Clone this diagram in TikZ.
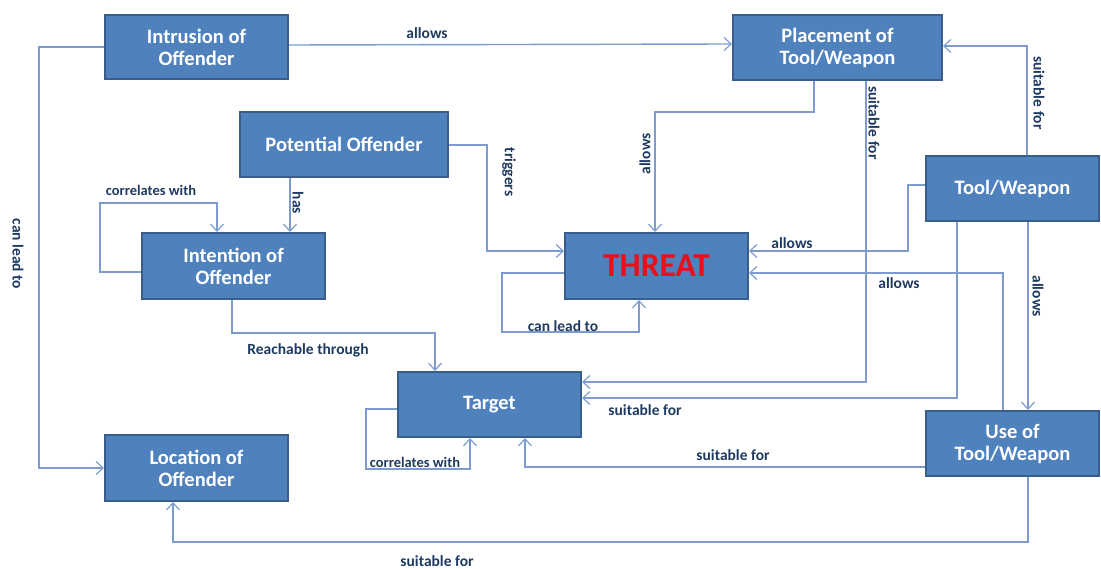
\documentclass[tikz,border=0pt]{standalone}
\usepackage{fontspec}
\setmainfont{Carlito}
\usetikzlibrary{arrows.meta}
\definecolor{boxfill}{HTML}{4F81BD}
\definecolor{boxline}{HTML}{385D8A}
\definecolor{wire}{HTML}{7D9BCF}
\definecolor{lbl}{HTML}{1F3A60}
\definecolor{alarm}{HTML}{E8101A}
\tikzset{
  box/.style={rectangle, draw=boxline, line width=2pt, fill=boxfill,
    text=white, font=\fontsize{20.5}{22}\selectfont\bfseries,
    align=center, inner sep=0pt},
  conn/.style={draw=wire, line width=1.4pt,
    -{Straight Barb[length=7pt,width=13pt,line width=1.2pt]}},
  rel/.style={text=lbl, font=\fontsize{15.5}{17}\selectfont\bfseries, inner sep=0pt},
  smallrel/.style={rel, font=\fontsize{14.5}{16}\selectfont\bfseries},
}
\begin{document}
\begin{tikzpicture}[x=1pt,y=-1pt]
\useasboundingbox (0,0) rectangle (1101,569);

% concepts
\node[box, minimum width=183pt, minimum height=64pt] (intr)   at (196.5,47)   {Intrusion of\\Offender};
\node[box, minimum width=208pt, minimum height=65pt] (pot)    at (344,144.5)  {Potential Offender};
\node[box, minimum width=183pt, minimum height=66pt] (intn)   at (233.5,266)  {Intention of\\Offender};
\node[box, minimum width=209pt, minimum height=65pt] (place)  at (837.5,47.5) {Placement of\\Tool/Weapon};
\node[box, minimum width=183pt, minimum height=66pt, text=alarm,
      font=\fontsize{33.5}{35}\selectfont\bfseries]   (threat) at (656.5,266)  {THREAT};
\node[box, minimum width=173pt, minimum height=65pt] (tool)   at (1012.5,188.5) {Tool/Weapon};
\node[box, minimum width=183pt, minimum height=65pt] (target) at (489.5,404.5) {Target};
\node[box, minimum width=173pt, minimum height=65pt] (use)    at (1012.5,443.5) {Use of\\Tool/Weapon};
\node[box, minimum width=183pt, minimum height=66pt] (loc)    at (196.5,468)  {Location of\\Offender};

% relations
\draw[conn] (intr.east |- 0,45) -- (place.west |- 0,44);
\node[rel] (l1) at (427,33) {allows};

\draw[conn] (intr.west) -- (39,47) |- (loc.west);
\node[rel, rotate=-90] (l2) at (18,254) {can lead to};

\draw[conn] (pot.south -| 290,0) -- (intn.north -| 290,0);
\node[rel, rotate=-90] (l3) at (298,203) {has};

\draw[conn] (intn.west |- 0,272) -- (100,272) -- (100,203) -- (217,203) -- (intn.north -| 217,0);
\node[smallrel] (l4) at (151,190) {correlates with};

\draw[conn] (pot.east |- 0,145) -- (487,145) -- (487,251) -- (threat.west |- 0,251);
\node[rel, rotate=-90] (l5) at (509,172) {triggers};

\draw[conn] (place.south -| 814,0) -- (814,112) -- (655,112) -- (threat.north -| 655,0);
\node[rel, rotate=90] (l6) at (645,154) {allows};

\draw[conn] (place.south -| 866,0) -- (866,382) -- (target.east |- 0,382);
\node[rel, rotate=-90] (l7) at (874,123) {suitable for};

\draw[conn] (tool.north -| 1027,0) -- (1027,46) -- (place.east |- 0,46);
\node[rel, rotate=-90] (l8) at (1039,93) {suitable for};

\draw[conn] (tool.west |- 0,185) -- (908,185) -- (908,251) -- (threat.east |- 0,251);
\node[rel] (l9) at (792,243) {allows};

\draw[conn] (use.north -| 1003,0) -- (1003,273) -- (threat.east |- 0,273);
\node[rel] (l10) at (899,283) {allows};

\draw[conn] (tool.south -| 957,0) -- (957,398) -- (target.east |- 0,398);
\node[rel] (l11) at (645,410) {suitable for};

\draw[conn] (tool.south -| 1028,0) -- (use.north -| 1028,0);
\node[rel, rotate=-90] (l12) at (1038,296) {allows};

\draw[conn] (use.west |- 0,467) -- (525,467) -- (target.south -| 525,0);
\node[rel] (l13) at (733,455) {suitable for};

\draw[conn] (use.south -| 1028,0) -- (1028,542) -- (173,542) -- (loc.south -| 173,0);
\node[rel] (l14) at (437,561) {suitable for};

\draw[conn] (target.west |- 0,409) -- (366,409) -- (366,469) -- (470,469) -- (target.south -| 470,0);
\node[smallrel] (l15) at (415,462) {correlates with};

\draw[conn] (threat.west |- 0,273) -- (502,273) -- (502,332) -- (639,332) -- (threat.south -| 639,0);
\node[rel] (l16) at (563,326) {can lead to};

\draw[conn] (intn.south -| 232,0) -- (232,333) -- (435,333) -- (target.north -| 435,0);
\node[rel] (l17) at (308,350) {Reachable through};
\end{tikzpicture}
\end{document}
